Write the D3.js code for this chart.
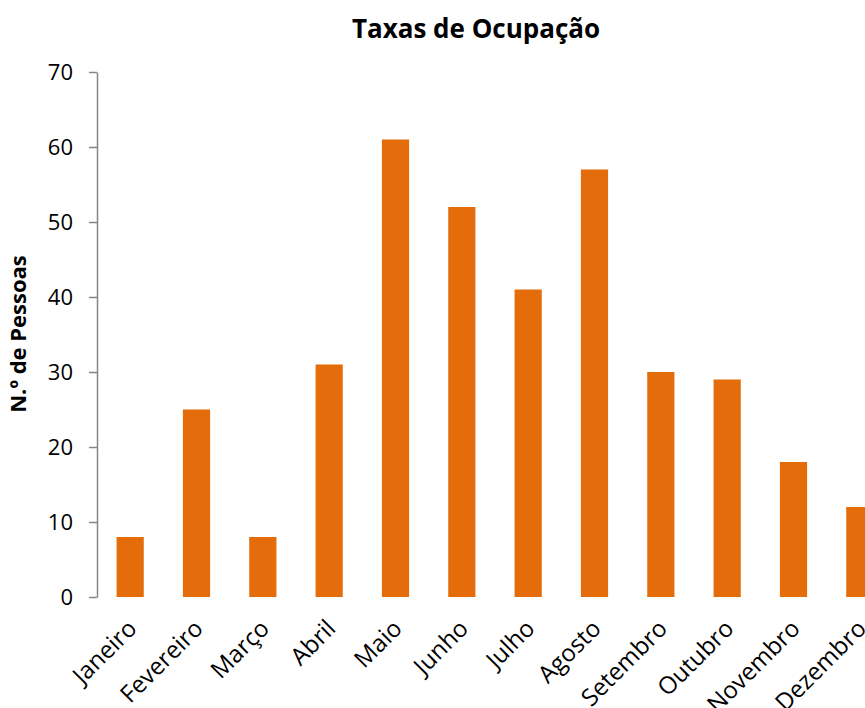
<!DOCTYPE html>
<html lang="pt">
<head>
<meta charset="UTF-8">
<title>Taxas de Ocupação</title>
<script src="https://cdnjs.cloudflare.com/ajax/libs/d3/7.8.5/d3.min.js"></script>
<style>
  body { margin: 0; background: #fff; overflow: hidden; }
  text { font-family: "Open Sans", sans-serif; fill: #000; }
</style>
</head>
<body>
<div id="chart"></div>
<script>
var meses = ["Janeiro", "Fevereiro", "Março", "Abril", "Maio", "Junho",
             "Julho", "Agosto", "Setembro", "Outubro", "Novembro", "Dezembro"];
var pessoas = [8, 25, 8, 31, 61, 52, 41, 57, 30, 29, 18, 12];
var yTicks = [0, 10, 20, 30, 40, 50, 60, 70];

var width = 865, height = 708;
var plotLeft = 97, plotRight = 893, plotTop = 72, plotBottom = 597;

var svg = d3.select("#chart").append("svg")
    .attr("width", width)
    .attr("height", height);

var x = d3.scaleBand()
    .domain(meses)
    .range([plotLeft, plotRight])
    .paddingInner(0.59)
    .paddingOuter(0.295);

var y = d3.scaleLinear()
    .domain([0, 70])
    .range([plotBottom, plotTop]);

// bars
svg.selectAll(".bar")
    .data(meses)
    .enter().append("rect")
    .attr("class", "bar")
    .attr("x", function(d) { return x(d); })
    .attr("y", function(d, i) { return y(pessoas[i]); })
    .attr("width", x.bandwidth())
    .attr("height", function(d, i) { return plotBottom - y(pessoas[i]); })
    .attr("fill", "#E46C0A");

// y axis
var yAxis = svg.append("g")
    .attr("transform", "translate(" + plotLeft + ",0)")
    .call(d3.axisLeft(y).tickValues(yTicks).tickSize(8).tickPadding(16).tickSizeOuter(0));
yAxis.select(".domain").attr("stroke", "#868686").attr("stroke-width", 1.5);
yAxis.selectAll(".tick line").attr("stroke", "#868686").attr("stroke-width", 1.5);
yAxis.selectAll(".tick text")
    .style("font-family", "'Open Sans', sans-serif")
    .style("font-size", "22px")
    .attr("fill", "#000");

// x labels (no axis line)
svg.selectAll(".xlabel")
    .data(meses)
    .enter().append("text")
    .attr("class", "xlabel")
    .attr("text-anchor", "end")
    .attr("transform", function(d) {
        return "translate(" + (x(d) + x.bandwidth() / 2 + 8) + "," + (plotBottom + 33) + ") rotate(-45)";
    })
    .style("font-size", "24px")
    .text(function(d) { return d; });

// title
svg.append("text")
    .attr("x", 476)
    .attr("y", 38)
    .attr("text-anchor", "middle")
    .style("font-size", "26px")
    .style("font-weight", "bold")
    .text("Taxas de Ocupação");

// y title
svg.append("text")
    .attr("transform", "translate(26," + 334 + ") rotate(-90)")
    .attr("text-anchor", "middle")
    .style("font-size", "22px")
    .style("font-weight", "bold")
    .text("N.º de Pessoas");
</script>
</body>
</html>
